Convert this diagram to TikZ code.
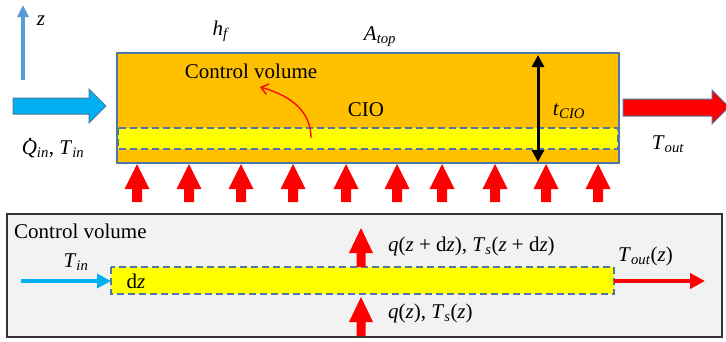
\documentclass[tikz,border=0pt]{standalone}
\usepackage{fontspec}
\setmainfont{Liberation Serif}
\usetikzlibrary{arrows.meta}
\definecolor{gold}{HTML}{FFC000}
\definecolor{edgeblue}{HTML}{4E77A3}
\definecolor{inblue}{HTML}{00B0F0}
\definecolor{zblue}{HTML}{5B9BD5}
\definecolor{cvgrey}{HTML}{F2F2F2}
\definecolor{yel}{HTML}{FFFF00}
\definecolor{hotred}{HTML}{FF0000}
\tikzset{
  lbl/.style={font=\fontsize{21}{25}\selectfont, inner sep=0pt},
  dashband/.style={draw=edgeblue, line width=1.4pt, dash pattern=on 7pt off 4pt},
}
\newcommand{\Qdot}{\textit{\rlap{\hspace{0.3em}\raisebox{0.7em}{.}}Q}}
\begin{document}
\begin{tikzpicture}[x=1pt,y=-1pt]
\useasboundingbox (0,0) rectangle (726,341);
% z axis
\draw[zblue, line width=3.5pt, -{Triangle[width=11pt,length=12pt]}] (23,80) -- (23,5);
\node[lbl] (zlab) at (41,21) {\textit{z}};
% main box
\fill[gold] (117,53) rectangle (619,163);
\fill[yel] (118,128) rectangle (618,149);
\draw[dashband] (118,128) rectangle (618,149);
\draw[edgeblue, line width=1.5pt] (117,53) rectangle (619,163);
% labels top
\node[lbl] (hf) at (221,31) {\textit{h}\textsubscript{\textit{f}}};
\node[lbl] (atop) at (380,37) {\textit{A}\textsubscript{\textit{top}}};
\node[lbl] (cvtop) at (251,71) {Control volume};
\node[lbl] (cio) at (366,110) {CIO};
\node[lbl] (tcio) at (569,111) {\textit{t}\textsubscript{\textit{CIO}}};
% curved red arrow
\draw[hotred, line width=1.3pt, -{Straight Barb[length=7pt,width=11pt]}] (311,138) .. controls (311,112) and (292,96) .. (260,87);
% thickness arrow
\draw[black, line width=3pt, {Triangle[width=12pt,length=12pt]}-{Triangle[width=12pt,length=12pt]}] (538,55) -- (538,162);
% inlet arrow
\draw[fill=inblue, draw=edgeblue, line width=1pt] (13,98) -- (89,98) -- (89,89) -- (106,106) -- (89,123) -- (89,114) -- (13,114) -- cycle;
\node[lbl] (qin) at (53,148) {\Qdot\textsubscript{\textit{in}}, \textit{T}\textsubscript{\textit{in}}};
% outlet arrow
\draw[fill=hotred, draw=edgeblue, line width=1pt] (623,99) -- (712,99) -- (712,90) -- (729,107) -- (712,124) -- (712,116) -- (623,116) -- cycle;
\node[lbl] (tout) at (668,144) {\textit{T}\textsubscript{\textit{out}}};
% heat flux arrows
\foreach \xa in {137,189,241,293,346,397,442,495,546,598}{
  \fill[hotred] (\xa,164) -- (\xa+12.5,189) -- (\xa+5,189) -- (\xa+5,202) -- (\xa-5,202) -- (\xa-5,189) -- (\xa-12.5,189) -- cycle;
}
% control volume box
\draw[fill=cvgrey, draw=black!80, line width=1.6pt] (7,214) rectangle (722,337);
\node[lbl, anchor=west] (cvbot) at (14,231) {Control volume};
\fill[yel] (111,267) rectangle (614,294);
\draw[dashband] (111,267) rectangle (614,294);
\node[lbl] (dz) at (136,281) {d\textit{z}};
% inlet thin arrow
\draw[inblue, line width=4pt, -{Triangle[width=14pt,length=14pt]}] (21,281) -- (111,281);
\node[lbl] (tinb) at (76,262) {\textit{T}\textsubscript{\textit{in}}};
% outlet thin arrow
\draw[hotred, line width=4.5pt, -{Triangle[width=15pt,length=15pt]}] (614,281) -- (705,281);
\node[lbl, anchor=west] (toutz) at (618,256) {\textit{T}\textsubscript{\textit{out}}(\textit{z})};
% flux arrows in control volume
\fill[hotred] (361,228) -- (373,253) -- (365.5,253) -- (365.5,267) -- (356.5,267) -- (356.5,253) -- (349,253) -- cycle;
\fill[hotred] (361,297) -- (373,322) -- (365.5,322) -- (365.5,336) -- (356.5,336) -- (356.5,322) -- (349,322) -- cycle;
\node[lbl, anchor=west] (qtop) at (388,246) {\textit{q}(\textit{z} + d\textit{z}), \textit{T}\textsubscript{\textit{s}}(\textit{z} + d\textit{z})};
\node[lbl, anchor=west] (qbot) at (388,313) {\textit{q}(\textit{z}), \textit{T}\textsubscript{\textit{s}}(\textit{z})};
\end{tikzpicture}
\end{document}
